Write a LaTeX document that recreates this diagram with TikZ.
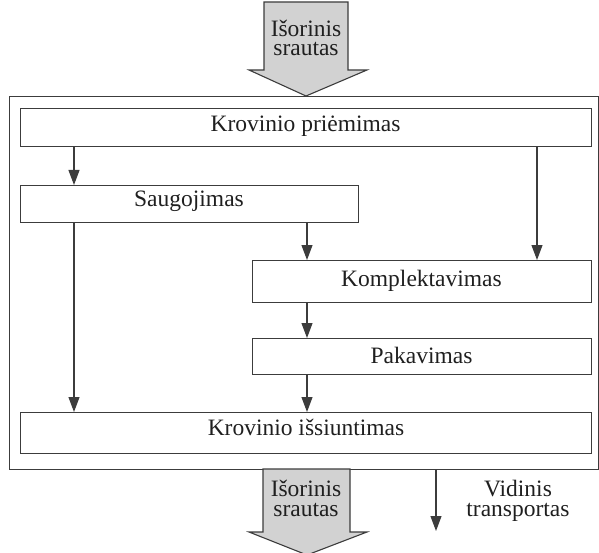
\documentclass[tikz,border=0pt]{standalone}
\usepackage{fontspec}
\setmainfont{Liberation Serif}
\usetikzlibrary{arrows.meta}
\definecolor{ink}{HTML}{3C3C3C}
\definecolor{flowfill}{HTML}{D2D2D2}
\tikzset{
  frame/.style={draw=ink, line width=1.3bp},
  stage/.style={draw=ink, line width=1.3bp, inner sep=0pt, anchor=north west},
  lbl/.style={font=\fontsize{23.5bp}{19.5bp}\selectfont, inner sep=0pt, anchor=base, text=black!88},
  pair/.style={lbl, align=center},
  flow/.style={draw=ink, line width=1.1bp, -{Triangle[length=15bp,width=11bp]}},
  bigarrow/.style={draw=ink, line width=1.1bp, fill=flowfill, line join=miter},
}
\begin{document}
\begin{tikzpicture}[x=1bp,y=-1bp]
\useasboundingbox (0,0) rectangle (599,553);

% incoming external flow
\draw[bigarrow] (264,2) -- (348,2) -- (348,70) -- (367,70) -- (306,96)
  -- (249,70) -- (264,70) -- cycle;
\node[pair] (inL) at (306,56) {Išorinis\\srautas};

% warehouse frame
\node[frame, inner sep=0pt, anchor=north west, minimum width=589bp, minimum height=373bp] (wh) at (9,96) {};

% process stages
\node[stage, minimum width=571bp, minimum height=38bp] (b1) at (20,108) {};
\node[stage, minimum width=338bp, minimum height=37bp] (b2) at (20,185) {};
\node[stage, minimum width=339bp, minimum height=42bp] (b3) at (252,260) {};
\node[stage, minimum width=339bp, minimum height=36bp] (b4) at (252,338) {};
\node[stage, minimum width=571bp, minimum height=41bp] (b5) at (20,412) {};

\node[lbl] (t1) at (305.5,132) {Krovinio priėmimas};
\node[lbl] (t2) at (189,207) {Saugojimas};
\node[lbl] (t3) at (421.5,286) {Komplektavimas};
\node[lbl] (t4) at (421.5,363) {Pakavimas};
\node[lbl] (t5) at (306,435) {Krovinio išsiuntimas};

% connector columns
\coordinate (xL) at (74,0);
\coordinate (xM) at (307,0);
\coordinate (xR) at (537,0);

\draw[flow] (b1.south -| xL) -- (b2.north -| xL);
\draw[flow] (b1.south -| xR) -- (b3.north -| xR);
\draw[flow] (b2.south -| xM) -- (b3.north -| xM);
\draw[flow] (b2.south -| xL) -- (b5.north -| xL);
\draw[flow] (b3.south -| xM) -- (b4.north -| xM);
\draw[flow] (b4.south -| xM) -- (b5.north -| xM);

% outgoing external flow
\draw[bigarrow] (263,469) -- (350,469) -- (350,532) -- (367,532) -- (307,555)
  -- (249,532) -- (263,532) -- cycle;
\node[pair] (outL) at (306,516) {Išorinis\\srautas};

% internal transport legend
\coordinate (v1) at (436,469);
\coordinate (v2) at (436,531);
\draw[flow] (v1) -- (v2);
\node[pair] (vL) at (518,516) {Vidinis\\transportas};
\end{tikzpicture}
\end{document}
